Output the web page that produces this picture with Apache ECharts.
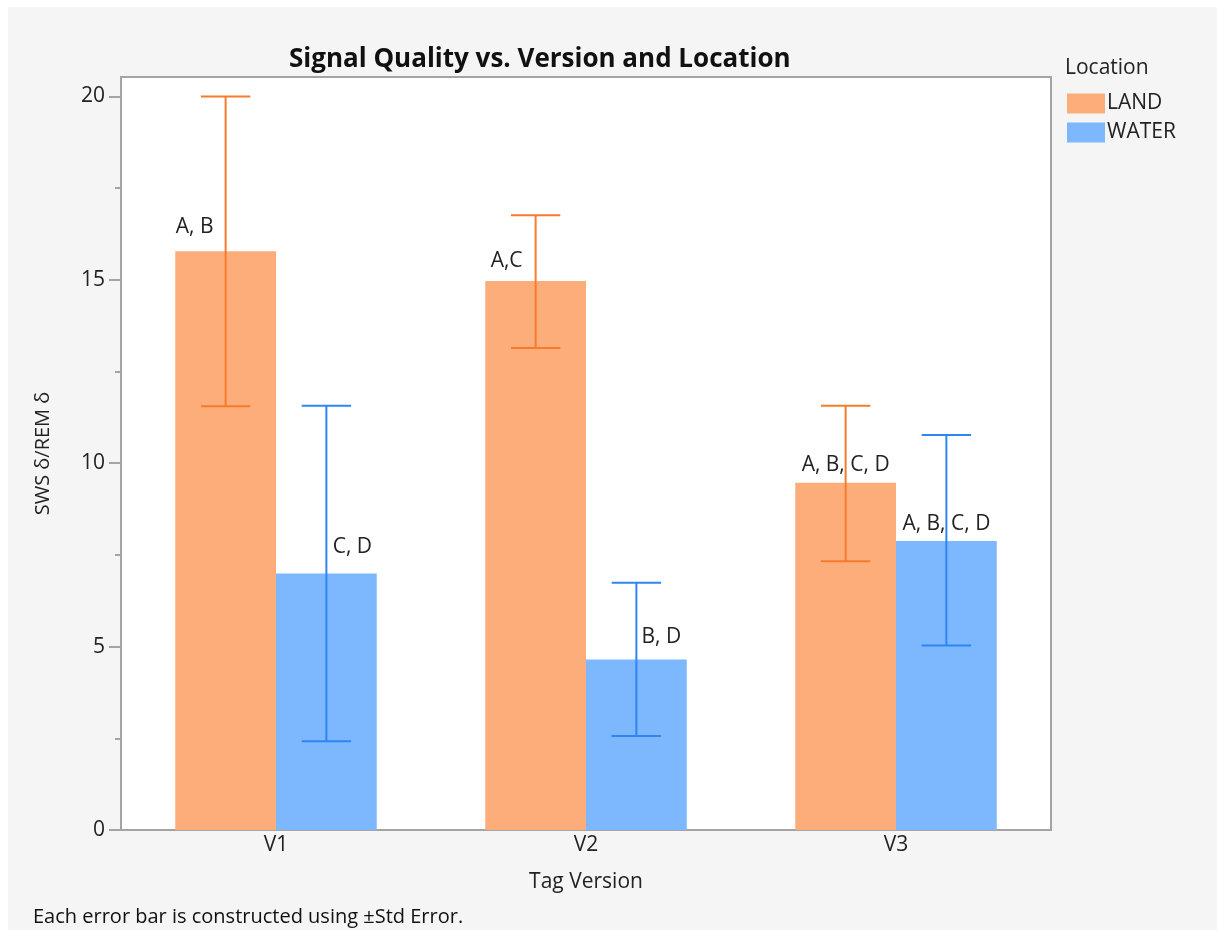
<!DOCTYPE html>
<html>
<head>
<meta charset="utf-8">
<script src="https://cdn.jsdelivr.net/npm/echarts@6/dist/echarts.min.js"></script>
<style>
  html, body { margin: 0; padding: 0; background: #ffffff; }
  #panel { position: absolute; left: 8px; top: 7px; width: 1209px; height: 923px; background: #f5f5f5; }
  #chart { position: absolute; left: 0; top: 0; width: 1217px; height: 930px; }
</style>
</head>
<body>
<div id="panel"></div>
<div id="chart"></div>
<script>
// ---- Data ----
const categories = ['V1', 'V2', 'V3'];
const seriesNames = ['LAND', 'WATER'];
const landMeans = [15.78, 14.97, 9.47];
const landLow = [11.55, 13.14, 7.33];
const landHigh = [20.0, 16.76, 11.57];
const waterMeans = [6.99, 4.65, 7.88];
const waterLow = [2.42, 2.56, 5.03];
const waterHigh = [11.57, 6.74, 10.77];
const landLetters = ['A, B', 'A,C', 'A, B, C, D'];
const waterLetters = ['C, D', 'B, D', 'A, B, C, D'];
const yTicks = [0, 5, 10, 15, 20];
const yMinorTicks = [2.5, 7.5, 12.5, 17.5];

// ---- Styling ----
const FONT = 'Open Sans';
const landColor = '#fdad7a';
const waterColor = '#7db7fd';
const landErr = '#f67b2c';
const waterErr = '#2e86f2';
const CAT_GAP = 0.35;

// label layout (per category, px offsets from the default "top" position)
const landLabelLayout = [{ dx: -31, d: 14 }, { dx: -29, d: 9 }, { dx: 0, d: 7 }];
const waterLabelLayout = [{ dx: 26, d: 16 }, { dx: 25, d: 12 }, { dx: 0, d: 6 }];

function barData(vals, letters, layout) {
  return vals.map((v, i) => ({
    value: v,
    label: {
      show: true,
      position: 'top',
      distance: layout[i].d,
      offset: [layout[i].dx, 0],
      formatter: letters[i],
      fontFamily: FONT,
      fontSize: 21,
      color: '#222'
    }
  }));
}

function errData(low, high) {
  return categories.map((c, i) => [i, low[i], high[i]]);
}

function errRenderer(sideIdx, color) {
  return function (params, api) {
    const ci = api.value(0);
    const lo = api.coord([ci, api.value(1)]);
    const hi = api.coord([ci, api.value(2)]);
    const band = api.size([1, 0])[0];
    const bw = band * (1 - CAT_GAP) / 2;
    const x = lo[0] + (sideIdx === 0 ? -bw / 2 : bw / 2);
    const cap = bw * 0.245;
    const style = { stroke: color, lineWidth: 2 };
    return {
      type: 'group',
      children: [
        { type: 'line', shape: { x1: x, y1: lo[1], x2: x, y2: hi[1] }, style },
        { type: 'line', shape: { x1: x - cap, y1: hi[1], x2: x + cap, y2: hi[1] }, style },
        { type: 'line', shape: { x1: x - cap, y1: lo[1], x2: x + cap, y2: lo[1] }, style }
      ]
    };
  };
}

const chart = echarts.init(document.getElementById('chart'), null, { renderer: 'canvas' });
const axisGrey = '#a4a4a4';

const option = {
  backgroundColor: 'transparent',
  animation: false,
  textStyle: { fontFamily: FONT },
  title: [
    {
      text: 'Signal Quality vs. Version and Location',
      left: 284, top: 42,
      textStyle: { fontFamily: FONT, fontSize: 26, fontWeight: 'bold', color: '#111' }
    },
    {
      text: 'Location',
      left: 1060, top: 53,
      textStyle: { fontFamily: FONT, fontSize: 21, fontWeight: 'normal', color: '#222' }
    },
    {
      text: 'Each error bar is constructed using ±Std Error.',
      left: 28, top: 902,
      textStyle: { fontFamily: FONT, fontSize: 20, fontWeight: 'normal', color: '#111' }
    }
  ],
  legend: {
    data: seriesNames,
    orient: 'vertical',
    left: 1062, top: 88,
    itemWidth: 38, itemHeight: 20, itemGap: 8,
    icon: 'rect',
    textStyle: { fontFamily: FONT, fontSize: 21, color: '#222', padding: [0, 0, 0, -3] }
  },
  grid: {
    left: 121, right: 166, top: 77, bottom: 100,
    show: true, backgroundColor: '#ffffff', borderColor: axisGrey, borderWidth: 2,
    containLabel: false
  },
  xAxis: {
    type: 'category',
    data: categories,
    name: 'Tag Version',
    nameLocation: 'middle',
    nameGap: 42,
    nameTextStyle: { fontFamily: FONT, fontSize: 21, color: '#222' },
    axisLine: { show: true, lineStyle: { color: axisGrey, width: 2 } },
    axisTick: { show: false },
    axisLabel: { fontFamily: FONT, fontSize: 21, color: '#222', margin: 5 },
    splitLine: { show: false }
  },
  yAxis: [
    {
      type: 'value',
      min: 0, max: 20.53,
      name: 'SWS δ/REM δ',
      nameLocation: 'middle',
      nameGap: 68,
      nameTextStyle: { fontFamily: FONT, fontSize: 20, color: '#222' },
      axisLine: { show: true, lineStyle: { color: axisGrey, width: 2 } },
      axisTick: { show: true, length: 12, customValues: yTicks, lineStyle: { color: axisGrey, width: 2 } },
      axisLabel: { fontFamily: FONT, fontSize: 21, color: '#222', margin: 16, customValues: yTicks },
      splitLine: { show: false }
    },
    {
      type: 'value',
      min: 0, max: 20.53,
      position: 'left',
      axisLine: { show: false },
      axisTick: { show: true, length: 6, customValues: yMinorTicks, lineStyle: { color: axisGrey, width: 2 } },
      axisLabel: { show: false },
      splitLine: { show: false }
    }
  ],
  series: [
    {
      name: 'LAND', type: 'bar', barGap: '0%', barCategoryGap: (CAT_GAP * 100) + '%',
      itemStyle: { color: landColor },
      data: barData(landMeans, landLetters, landLabelLayout),
      z: 2
    },
    {
      name: 'WATER', type: 'bar', barGap: '0%', barCategoryGap: (CAT_GAP * 100) + '%',
      itemStyle: { color: waterColor },
      data: barData(waterMeans, waterLetters, waterLabelLayout),
      z: 2
    },
    {
      name: 'LAND err', type: 'custom', renderItem: errRenderer(0, landErr),
      data: errData(landLow, landHigh), encode: { x: 0, y: [1, 2] }, z: 5, silent: true
    },
    {
      name: 'WATER err', type: 'custom', renderItem: errRenderer(1, waterErr),
      data: errData(waterLow, waterHigh), encode: { x: 0, y: [1, 2] }, z: 5, silent: true
    }
  ]
};
chart.setOption(option);
</script>
</body>
</html>
